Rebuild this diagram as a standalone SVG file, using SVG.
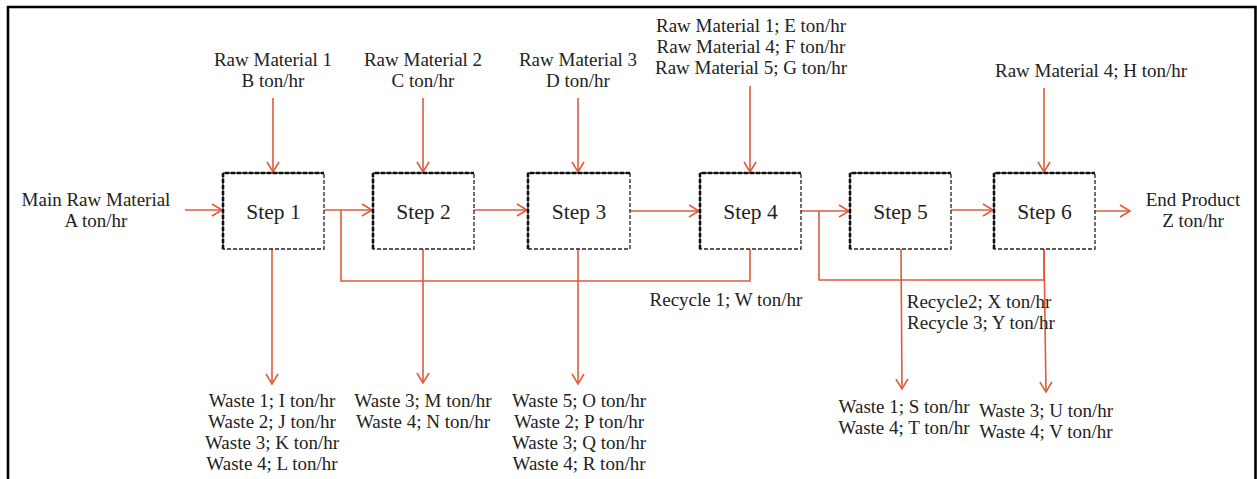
<svg xmlns="http://www.w3.org/2000/svg" width="1257" height="479" viewBox="0 0 1257 479">
<style>
text{font-family:"Liberation Serif","DejaVu Serif",serif;font-size:19px;fill:#222;text-anchor:middle}
.step{font-size:21.5px}
.box{fill:#fff;stroke:#222;stroke-width:1.3;stroke-dasharray:4 2}
.thick{fill:none;stroke:#111;stroke-width:2.6;stroke-dasharray:4 2}
.c{fill:none;stroke:#DE5B3C;stroke-width:1.6}
.a{fill:none;stroke:#DE5B3C;stroke-width:1.6;marker-end:url(#ah)}
</style>
<defs>
<marker id="ah" markerUnits="userSpaceOnUse" markerWidth="14" markerHeight="16" refX="11" refY="7" orient="auto">
<path d="M1,1 L11,7 L1,13" fill="none" stroke="#DE5B3C" stroke-width="1.6"/>
</marker>
</defs>
<rect width="1257" height="479" fill="#fff"/>
<path d="M8,480 V7 H1255.5 V480" fill="none" stroke="#000" stroke-width="2.6"/>

<g id="connectors">
<line class="a" x1="185" y1="210" x2="222" y2="210"/>
<line class="a" x1="324" y1="210" x2="372" y2="210"/>
<line class="a" x1="474" y1="210" x2="527" y2="210"/>
<line class="a" x1="630" y1="211" x2="699" y2="211"/>
<line class="a" x1="801" y1="211" x2="849" y2="211"/>
<line class="a" x1="951" y1="210" x2="993" y2="210"/>
<line class="a" x1="1095" y1="211" x2="1130" y2="211"/>
<polyline class="c" points="750,249 750,281 341,281 341,210"/>
<polyline class="c" points="1044,249 1044,280 819,280 819,211"/>
<line class="a" x1="273" y1="98" x2="273" y2="172"/>
<line class="a" x1="423" y1="98" x2="423" y2="172"/>
<line class="a" x1="578" y1="98" x2="578" y2="172"/>
<line class="a" x1="750" y1="86" x2="750" y2="172"/>
<line class="a" x1="1044" y1="88" x2="1044" y2="172"/>
<line class="a" x1="272" y1="249" x2="272" y2="384"/>
<line class="a" x1="423" y1="249" x2="423" y2="383"/>
<line class="a" x1="578" y1="249" x2="578" y2="384"/>
<line class="a" x1="901" y1="249" x2="902" y2="389"/>
<line class="a" x1="1044" y1="249" x2="1046" y2="392"/>
</g>

<g id="step1"><rect class="box" x="223" y="173" width="101" height="76"/><path class="thick" d="M223,249 V173 H324"/><text class="step" x="273.5" y="219">Step 1</text></g>
<g id="step2"><rect class="box" x="373" y="173" width="101" height="76"/><path class="thick" d="M373,249 V173 H474"/><text class="step" x="423.5" y="219">Step 2</text></g>
<g id="step3"><rect class="box" x="528" y="173" width="102" height="76"/><path class="thick" d="M528,249 V173 H630"/><text class="step" x="579" y="219">Step 3</text></g>
<g id="step4"><rect class="box" x="700" y="173" width="101" height="76"/><path class="thick" d="M700,249 V173 H801"/><text class="step" x="750.5" y="219">Step 4</text></g>
<g id="step5"><rect class="box" x="850" y="173" width="101" height="76"/><path class="thick" d="M850,249 V173 H951"/><text class="step" x="900.5" y="219">Step 5</text></g>
<g id="step6"><rect class="box" x="994" y="173" width="101" height="76"/><path class="thick" d="M994,249 V173 H1095"/><text class="step" x="1044.5" y="219">Step 6</text></g>

<g id="main-input"><text x="96" y="206">Main Raw Material</text><text x="96" y="227">A ton/hr</text></g>
<g id="rm1"><text x="273" y="66">Raw Material 1</text><text x="273" y="87">B ton/hr</text></g>
<g id="rm2"><text x="423" y="66">Raw Material 2</text><text x="423" y="87">C ton/hr</text></g>
<g id="rm3"><text x="578" y="66">Raw Material 3</text><text x="578" y="87">D ton/hr</text></g>
<g id="rm4"><text x="751" y="32">Raw Material 1; E ton/hr</text><text x="751" y="53">Raw Material 4; F ton/hr</text><text x="751" y="74">Raw Material 5; G ton/hr</text></g>
<g id="rm6"><text x="1091" y="77">Raw Material 4; H ton/hr</text></g>
<g id="end-product"><text x="1193" y="206">End Product</text><text x="1193" y="227">Z ton/hr</text></g>
<g id="recycle1"><text x="726" y="306">Recycle 1; W ton/hr</text></g>
<g id="recycle23"><text x="979" y="308">Recycle2; X ton/hr</text><text x="981" y="329">Recycle 3; Y ton/hr</text></g>
<g id="waste1"><text x="272" y="407">Waste 1; I ton/hr</text><text x="272" y="428">Waste 2; J ton/hr</text><text x="272" y="449">Waste 3; K ton/hr</text><text x="272" y="470">Waste 4; L ton/hr</text></g>
<g id="waste2"><text x="423" y="407">Waste 3; M ton/hr</text><text x="423" y="428">Waste 4; N ton/hr</text></g>
<g id="waste3"><text x="579" y="407">Waste 5; O ton/hr</text><text x="579" y="428">Waste 2; P ton/hr</text><text x="579" y="449">Waste 3; Q ton/hr</text><text x="579" y="470">Waste 4; R ton/hr</text></g>
<g id="waste5"><text x="904" y="413">Waste 1; S ton/hr</text><text x="904" y="434">Waste 4; T ton/hr</text></g>
<g id="waste6"><text x="1046" y="417">Waste 3; U ton/hr</text><text x="1046" y="438">Waste 4; V ton/hr</text></g>
</svg>
